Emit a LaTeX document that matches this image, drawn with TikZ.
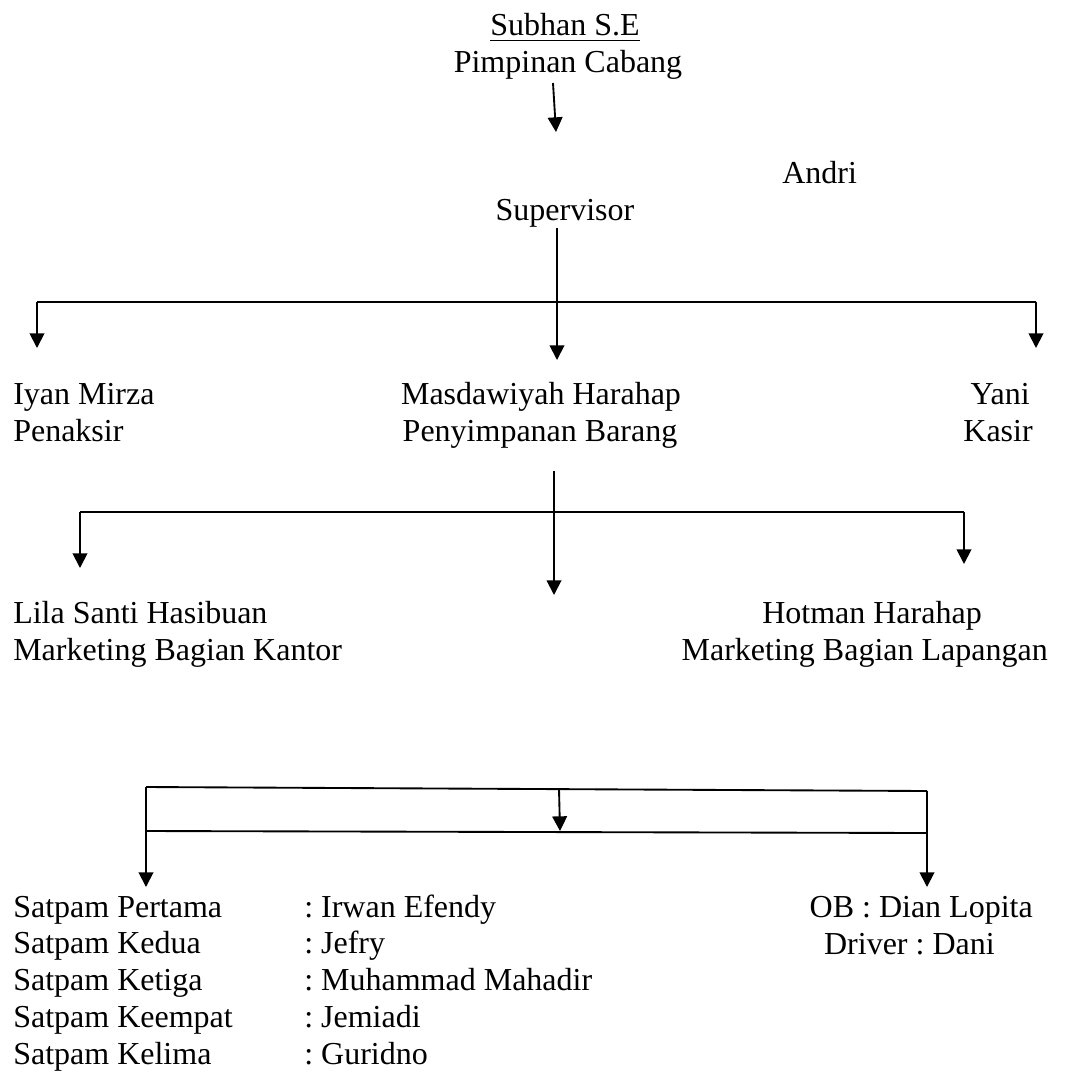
\documentclass[tikz,border=0pt]{standalone}
\usepackage{fontspec}
\setmainfont{Liberation Serif}
\usetikzlibrary{arrows.meta}
\frenchspacing
\begin{document}
\begin{tikzpicture}[x=0.75pt,y=-0.75pt]
        % Common styles
        \tikzstyle{txt}=[anchor=base west, inner sep=0pt, font=\fontsize{24}{28}\selectfont]
        \tikzstyle{ctxt}=[txt, anchor=base]
        \tikzstyle{rtxt}=[txt, anchor=base east]
        \tikzstyle{link}=[line width=1.4pt, black]
        \tikzstyle{down}=[link, -{Triangle[width=11pt,length=11pt]}]
        \useasboundingbox (0,0) rectangle (1074,1072);

        % --- Pimpinan Cabang ---
        \node[ctxt] (subhan) at (565,35) {Subhan S.E};
        \draw[line width=1.2pt] ([yshift=-4pt]subhan.base west) -- ([yshift=-4pt]subhan.base east);
        \node[ctxt] (pimpinan) at (568,72) {Pimpinan Cabang};
        \coordinate (pimpinan-out) at (553,83);
        \coordinate (supervisor-in) at (556,132);
        \draw[down] (pimpinan-out) -- (supervisor-in);

        % --- Supervisor ---
        \node[txt] (andri) at (782,183) {Andri};
        \node[ctxt] (supervisor) at (565,220) {Supervisor};
        \coordinate (supervisor-out) at (557,228);
        \coordinate (bar1-l) at (37,302);
        \coordinate (bar1-r) at (1036,302);
        \coordinate (iyan-in) at (37,348);
        \coordinate (masda-in) at (557,360);
        \coordinate (yani-in) at (1036,348);
        \draw[link] (bar1-l) -- (bar1-r);
        \draw[down] (supervisor-out) -- (masda-in);
        \draw[down] (bar1-l) -- (iyan-in);
        \draw[down] (bar1-r) -- (yani-in);

        % --- Level 1 ---
        \node[txt] (iyan) at (13,404) {Iyan Mirza};
        \node[txt] (penaksir) at (13,441) {Penaksir};
        \node[ctxt] (masda) at (541,404) {Masdawiyah Harahap};
        \node[ctxt] (penyimpanan) at (540,441) {Penyimpanan Barang};
        \node[rtxt] (yani) at (1030,404) {Yani};
        \node[rtxt] (kasir) at (1033,441) {Kasir};

        % connectors below Penyimpanan Barang
        \coordinate (masda-out) at (554,471);
        \coordinate (bar2-l) at (80,512);
        \coordinate (bar2-r) at (964,512);
        \coordinate (lila-in) at (80,568);
        \coordinate (mid-in) at (554,595);
        \coordinate (hotman-in) at (964,564);
        \draw[link] (bar2-l) -- (bar2-r);
        \draw[down] (masda-out) -- (mid-in);
        \draw[down] (bar2-l) -- (lila-in);
        \draw[down] (bar2-r) -- (hotman-in);

        % --- Level 2 ---
        \node[txt] (lila) at (13,623) {Lila Santi Hasibuan};
        \node[txt] (mkantor) at (13,660) {Marketing Bagian Kantor};
        \node[ctxt] (hotman) at (872,623) {Hotman Harahap};
        \node[rtxt] (mlapangan) at (1048,660) {Marketing Bagian Lapangan};

        % --- Level 3: box of lines ---
        \coordinate (box-tl) at (146,787);
        \coordinate (box-tr) at (927,791);
        \coordinate (box-bl) at (146,831);
        \coordinate (box-br) at (927,833);
        \coordinate (box-top) at (559,789);
        \coordinate (box-bot) at (560,831);
        \coordinate (satpam-in) at (146,887);
        \coordinate (ob-in) at (927,887);
        \draw[link] (box-tl) -- (box-tr);
        \draw[link] (box-bl) -- (box-br);
        \draw[down] (box-top) -- (box-bot);
        \draw[down] (box-tl) -- (satpam-in);
        \draw[down] (box-tr) -- (ob-in);

        % Satpam list
        \foreach \jab/\nama [count=\i from 0] in {Pertama/Irwan Efendy, Kedua/Jefry, Ketiga/Muhammad Mahadir, Keempat/Jemiadi, Kelima/Guridno} {
            \node[txt] (satpam\i) at (13,{917+36.8*\i}) {Satpam \jab};
            \node[txt] (nama\i) at (304,{917+36.8*\i}) {: \nama};
        }
        \node[rtxt] (ob) at (1033,917) {OB : Dian Lopita};
        \node[rtxt] (driver) at (995,954) {Driver : Dani};

    \end{tikzpicture}
\end{document}
